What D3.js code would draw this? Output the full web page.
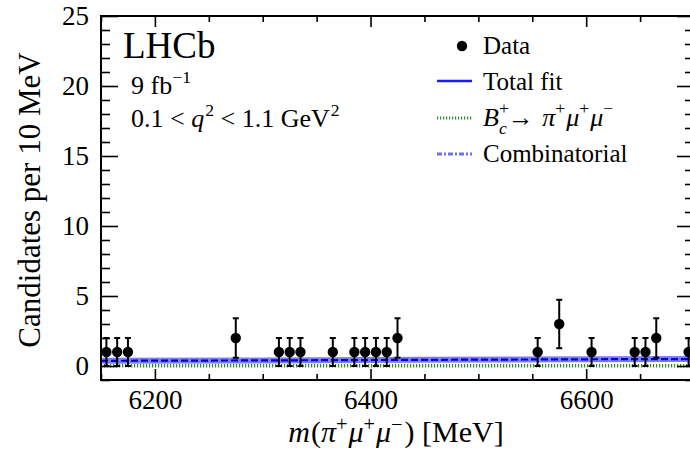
<!DOCTYPE html>
<html>
<head>
<meta charset="utf-8">
<script src="https://cdn.jsdelivr.net/npm/d3@7"></script>
<style>
body { margin: 0; background: #fff; }
svg { display: block; }
text { font-family: "Liberation Serif", "Times New Roman", serif; fill: #000; }
</style>
</head>
<body>
<div id="chart"></div>
<script>
// bin centres [MeV] and entries per 10 MeV bin
const binCenters = [6155, 6165, 6175, 6275, 6315, 6325, 6335, 6365, 6385, 6395, 6405, 6415, 6425,
	6555, 6575, 6605, 6645, 6655, 6665, 6695];
const counts = [1, 1, 1, 2, 1, 1, 1, 1, 1, 1, 1, 1, 2, 1, 3, 1, 1, 1, 2, 1];
const countErrors = [1, 1, 1, 1.41, 1, 1, 1, 1, 1, 1, 1, 1, 1.41, 1, 1.73, 1, 1, 1, 1.41, 1];

// fit components
const fitMass = [6150, 6300, 6450, 6600, 6700];
const totalFit = [0.37, 0.40, 0.44, 0.48, 0.50];
const combinatorial = [0.37, 0.40, 0.44, 0.48, 0.50];
const signalFit = [0.02, 0.02, 0.02, 0.02, 0.02];

const xTicks = [6200, 6400, 6600];
const yTicks = [0, 5, 10, 15, 20, 25];

const W = 690, H = 449;
const m = {l: 101, r: 694, t: 16, b: 380};

const x = d3.scaleLinear().domain([6150, 6700]).range([m.l, m.r]);
const y = d3.scaleLinear().domain([-1, 25]).range([m.b, m.t]);

const svg = d3.select('#chart').append('svg')
	.attr('width', W)
	.attr('height', H)
	.attr('viewBox', `0 0 ${W} ${H}`);

// text with italic / sup / sub pieces
function rich(g, x0, y0, size, parts, supShift = 0.42, subShift = 0.24) {
	const t = g.append('text').attr('x', x0).attr('y', y0).attr('font-size', size);
	let lastW = 0;
	parts.forEach(p => {
		const fs = (p.sup || p.sub) ? size * 0.68 : size;
		const ts = t.append('tspan').text(p.t)
			.attr('font-size', fs)
			.attr('y', y0 + (p.sup ? -supShift * size : p.sub ? subShift * size : 0));
		if (p.it) ts.attr('font-style', 'italic');
		if (p.dx) ts.attr('dx', p.dx);
		if (p.back) ts.attr('dx', -lastW);
		lastW = ts.node().getComputedTextLength();
	});
	return t;
}

// clip for curves
svg.append('clipPath').attr('id', 'plotclip')
	.append('rect').attr('x', m.l).attr('y', m.t).attr('width', m.r - m.l).attr('height', m.b - m.t);

const plot = svg.append('g').attr('clip-path', 'url(#plotclip)');

const line = arr => d3.line()
	.x((d, i) => x(fitMass[i]))
	.y(d => y(d))(arr);

// signal (green dotted)
plot.append('path')
	.attr('d', line(signalFit))
	.attr('fill', 'none')
	.attr('stroke', '#2f8a2f')
	.attr('stroke-width', 3.5)
	.attr('stroke-dasharray', '1.2,1.8');

// combinatorial (wide light blue)
plot.append('path')
	.attr('d', line(combinatorial))
	.attr('fill', 'none')
	.attr('stroke', '#4444ff')
	.attr('stroke-opacity', 0.7)
	.attr('stroke-width', 6);

// total fit
plot.append('path')
	.attr('d', line(totalFit))
	.attr('fill', 'none')
	.attr('stroke', '#0000c8')
	.attr('stroke-width', 2.2)
	.attr('stroke-dasharray', '7,3');

// data points
const pts = plot.append('g').selectAll('g')
	.data(binCenters.map((c, i) => ({x: c, n: counts[i], e: countErrors[i]})))
	.enter().append('g');

pts.append('line')
	.attr('x1', d => x(d.x)).attr('x2', d => x(d.x))
	.attr('y1', d => y(d.n - d.e)).attr('y2', d => y(d.n + d.e))
	.attr('stroke', '#000').attr('stroke-width', 2);
[-1, 1].forEach(s => {
	pts.append('line')
		.attr('x1', d => x(d.x) - 3).attr('x2', d => x(d.x) + 3)
		.attr('y1', d => y(d.n + s * d.e)).attr('y2', d => y(d.n + s * d.e))
		.attr('stroke', '#000').attr('stroke-width', 2);
});
pts.append('circle')
	.attr('cx', d => x(d.x)).attr('cy', d => y(d.n))
	.attr('r', 5.2).attr('fill', '#000');

// axes
const xMinor = d3.range(6150, 6701, 50).filter(v => !xTicks.includes(v));
const yMinor = d3.range(-1, 26, 1).filter(v => !yTicks.includes(v));

const styleAxis = g => {
	g.select('.domain').remove();
	g.selectAll('.tick line').attr('stroke', '#000').attr('stroke-width', 1.6);
	g.selectAll('.tick text')
		.attr('font-family', '"Liberation Serif", "Times New Roman", serif')
		.attr('font-size', 27)
		.attr('fill', '#000');
};

svg.append('g').attr('transform', `translate(0,${m.b})`)
	.call(d3.axisBottom(x).tickValues(xTicks).tickSize(-11).tickPadding(10).tickFormat(d3.format('d')))
	.call(styleAxis);
svg.append('g').attr('transform', `translate(0,${m.b})`)
	.call(d3.axisBottom(x).tickValues(xMinor).tickSize(-6).tickFormat(''))
	.call(styleAxis);
svg.append('g').attr('transform', `translate(0,${m.t})`)
	.call(d3.axisTop(x).tickValues(xTicks).tickSize(-11).tickFormat(''))
	.call(styleAxis);
svg.append('g').attr('transform', `translate(0,${m.t})`)
	.call(d3.axisTop(x).tickValues(xMinor).tickSize(-6).tickFormat(''))
	.call(styleAxis);

svg.append('g').attr('transform', `translate(${m.l},0)`)
	.call(d3.axisLeft(y).tickValues(yTicks).tickSize(-17).tickPadding(12))
	.call(styleAxis);
svg.append('g').attr('transform', `translate(${m.l},0)`)
	.call(d3.axisLeft(y).tickValues(yMinor).tickSize(-9).tickFormat(''))
	.call(styleAxis);
svg.append('g').attr('transform', `translate(${m.r},0)`)
	.call(d3.axisRight(y).tickValues(yTicks).tickSize(-17).tickFormat(''))
	.call(styleAxis);
svg.append('g').attr('transform', `translate(${m.r},0)`)
	.call(d3.axisRight(y).tickValues(yMinor).tickSize(-9).tickFormat(''))
	.call(styleAxis);

// frame
svg.append('rect')
	.attr('x', m.l).attr('y', m.t)
	.attr('width', m.r - m.l).attr('height', m.b - m.t)
	.attr('fill', 'none').attr('stroke', '#000').attr('stroke-width', 2);

// axis titles
svg.append('text')
	.attr('transform', `translate(40,${(m.t + m.b) / 2 + 2}) rotate(-90)`)
	.attr('text-anchor', 'middle')
	.attr('font-size', 31)
	.text('Candidates per 10 MeV');

const xt = rich(svg, 0, 442, 30, [
	{t: 'm', it: true}, {t: '(', dx: 1}, {t: 'π', it: true}, {t: '+', sup: true},
	{t: 'μ', it: true, dx: 1}, {t: '+', sup: true}, {t: 'μ', it: true, dx: 1}, {t: '−', sup: true},
	{t: ') [MeV]', dx: 2}
], 0.36);
const xtw = xt.node().getBBox().width;
xt.attr('x', 396 - xtw / 2);

// labels
svg.append('text').attr('x', 123).attr('y', 58).attr('font-size', 37).text('LHCb');
rich(svg, 131, 94, 26, [{t: '9 fb'}, {t: '−1', sup: true}]);
rich(svg, 131, 127, 26, [
	{t: '0.1 < '}, {t: 'q', it: true}, {t: '2', sup: true, dx: 1}, {t: ' < 1.1 GeV'}, {t: '2', sup: true, dx: 1}
]);

// legend
const lg = svg.append('g');
const lx0 = 437, lx1 = 472, tx = 483;
lg.append('circle').attr('cx', 462).attr('cy', 46).attr('r', 5.2).attr('fill', '#000');
lg.append('text').attr('x', tx).attr('y', 54).attr('font-size', 25).text('Data');

lg.append('line').attr('x1', lx0).attr('x2', lx1).attr('y1', 81).attr('y2', 81)
	.attr('stroke', '#1a1aff').attr('stroke-width', 2.4);
lg.append('text').attr('x', tx).attr('y', 90).attr('font-size', 25).text('Total fit');

lg.append('line').attr('x1', lx0).attr('x2', lx1).attr('y1', 118).attr('y2', 118)
	.attr('stroke', '#2f8a2f').attr('stroke-width', 3).attr('stroke-dasharray', '1.2,1.8');
rich(lg, tx, 126, 26, [
	{t: 'B', it: true}, {t: '+', sup: true}, {t: 'c', sub: true, it: true, back: true},
	{t: '→ ', dx: 1}, {t: 'π', it: true, dx: 2}, {t: '+', sup: true},
	{t: 'μ', it: true, dx: 1}, {t: '+', sup: true},
	{t: 'μ', it: true, dx: 1}, {t: '−', sup: true}
], 0.45, 0.3);

lg.append('line').attr('x1', lx0).attr('x2', lx1).attr('y1', 154).attr('y2', 154)
	.attr('stroke', '#6f6ff0').attr('stroke-width', 3).attr('stroke-dasharray', '5,2,2,2');
lg.append('text').attr('x', tx).attr('y', 162).attr('font-size', 25).text('Combinatorial');
</script>
</body>
</html>
